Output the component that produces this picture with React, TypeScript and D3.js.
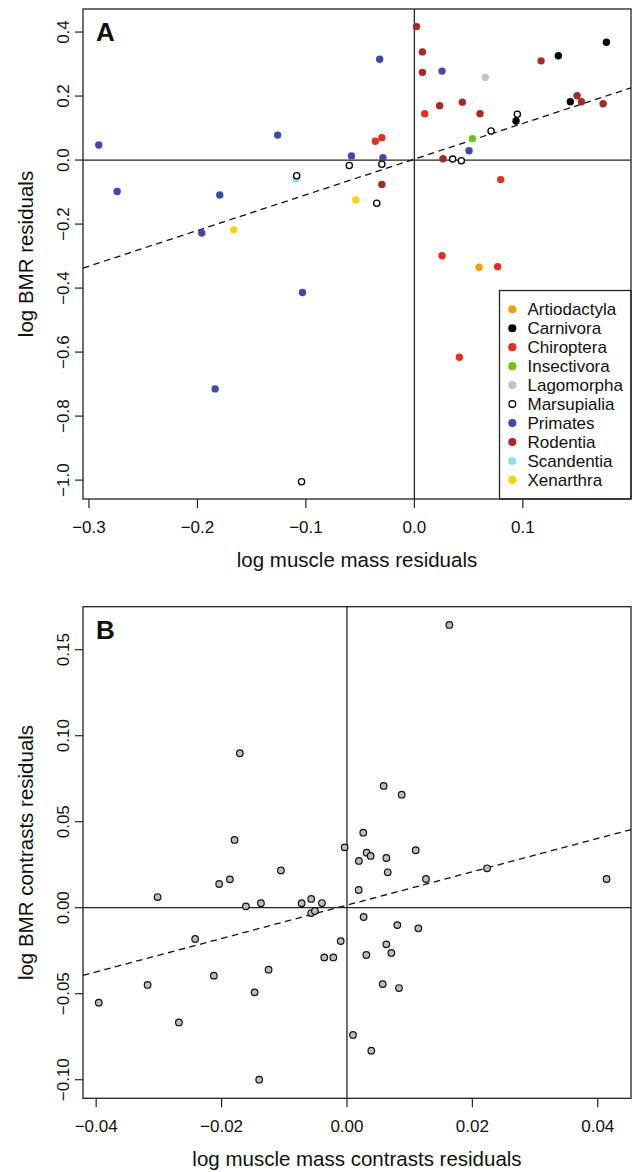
import { scaleLinear, format, line } from "d3";

const W = 637;
const H = 1172;
const FONT = '"Liberation Sans", Arial, Helvetica, sans-serif';

// panel A: log muscle mass residuals vs log BMR residuals, by order
const ORDERS = ["Artiodactyla", "Carnivora", "Chiroptera", "Insectivora", "Lagomorpha", "Marsupialia", "Primates", "Rodentia", "Scandentia", "Xenarthra"];

const artiodactyla = [[0.0596, -0.335]];
const carnivora = [[0.1327, 0.326], [0.177, 0.368], [0.1438, 0.182], [0.0937, 0.122]];
const chiroptera = [[0.0095, 0.145], [-0.036, 0.059], [-0.03, 0.07], [0.0796, -0.061], [0.0255, -0.299], [0.0768, -0.333], [0.0415, -0.616]];
const insectivora = [[0.0535, 0.067]];
const lagomorpha = [[0.0654, 0.258]];
const marsupialia = [[-0.06, -0.017], [-0.1085, -0.049], [-0.03, -0.013], [0.0353, 0.003], [0.0433, -0.002], [-0.0347, -0.135], [0.0949, 0.143], [0.0707, 0.091], [-0.104, -1.005]];
const primates = [[-0.291, 0.047], [-0.126, 0.078], [-0.058, 0.013], [-0.274, -0.098], [-0.1794, -0.109], [-0.196, -0.228], [-0.032, 0.315], [0.0255, 0.278], [0.0504, 0.029], [-0.029, 0.007], [-0.1032, -0.414], [-0.1837, -0.715]];
const rodentia = [[0.002, 0.417], [0.0074, 0.338], [0.0074, 0.274], [0.1168, 0.31], [0.15, 0.201], [0.154, 0.182], [0.174, 0.176], [0.0233, 0.17], [0.0442, 0.181], [0.0605, 0.145], [0.0264, 0.004], [-0.03, -0.076]];
const scandentia = [[-0.109, -0.059]];
const xenarthra = [[-0.054, -0.125], [-0.1665, -0.218]];

const seriesA: [string, number[][]][] = [
  ["Artiodactyla", artiodactyla],
  ["Carnivora", carnivora],
  ["Chiroptera", chiroptera],
  ["Insectivora", insectivora],
  ["Lagomorpha", lagomorpha],
  ["Primates", primates],
  ["Rodentia", rodentia],
  ["Scandentia", scandentia],
  ["Xenarthra", xenarthra],
  ["Marsupialia", marsupialia],
];

const xTicksA = [-0.3, -0.2, -0.1, 0.0, 0.1];
const yTicksA = [-1.0, -0.8, -0.6, -0.4, -0.2, 0.0, 0.2, 0.4];
const fitA = { intercept: 0.003, slope: 1.115 };

// panel B: phylogenetic contrasts
const contrastX = [
  0.01633, -0.01708, 0.00585, 0.00873, -0.01793, 0.0026, -0.00037, 0.00314, 0.00378, 0.00628,
  0.01096, 0.0019, -0.01053, -0.01867, -0.02038, 0.0065, 0.0126, 0.02234, 0.0414, -0.0302,
  0.00187, -0.01612, -0.01372, -0.00723, -0.0057, -0.00399, -0.0057, -0.00511, 0.00266, -0.02421,
  -0.001, 0.00803, 0.01138, -0.00362, -0.00218, 0.00628, 0.00708, 0.00309, -0.0125, -0.02123,
  -0.0318, -0.01473, 0.0057, 0.0083, -0.03958, -0.02681, 0.00096, 0.00388, -0.014,
];
const contrastY = [
  0.1644, 0.0898, 0.0708, 0.0657, 0.0394, 0.0436, 0.0351, 0.032, 0.0301, 0.0289,
  0.0334, 0.0272, 0.0217, 0.0165, 0.0138, 0.0206, 0.0167, 0.0229, 0.0167, 0.0062,
  0.0103, 0.0008, 0.0026, 0.0026, 0.0051, 0.0027, -0.0031, -0.0019, -0.0054, -0.0182,
  -0.0194, -0.0101, -0.012, -0.0289, -0.0289, -0.0213, -0.0263, -0.0275, -0.036, -0.0395,
  -0.0449, -0.0492, -0.0444, -0.0467, -0.0552, -0.0667, -0.074, -0.0831, -0.1,
];
const xTicksB = [-0.04, -0.02, 0.0, 0.02, 0.04];
const yTicksB = [-0.1, -0.05, 0.0, 0.05, 0.1, 0.15];
const fitB = { intercept: 0.0015, slope: 0.97 };

const COLORS: Record<string, string> = {
  Artiodactyla: "#f59d0e",
  Carnivora: "#000000",
  Chiroptera: "#e1301f",
  Insectivora: "#6cc21a",
  Lagomorpha: "#c4c4c4",
  Marsupialia: "#ffffff",
  Primates: "#4149ad",
  Rodentia: "#a62a27",
  Scandentia: "#93dcea",
  Xenarthra: "#ffd100",
};

const LEFT = 83;
const RIGHT = 631;

function Frame({ x, y, xTicks, yTicks, xFmt, yFmt, xTitle, yTitle, letter, fit }) {
  const [x0, x1] = x.domain();
  const [y0, y1] = y.range();
  const dash = line()([
    [x(x0), y(fit.intercept + fit.slope * x0)],
    [x(x1), y(fit.intercept + fit.slope * x1)],
  ]);
  const midX = (x.range()[0] + x.range()[1]) / 2;
  const midY = (y0 + y1) / 2;
  return (
    <g fontFamily={FONT} fill="#111">
      <line x1={x(0)} x2={x(0)} y1={y1} y2={y0} stroke="#222" strokeWidth={1.3} />
      <line x1={x(x0)} x2={x(x1)} y1={y(0)} y2={y(0)} stroke="#222" strokeWidth={1.3} />
      <path d={dash} fill="none" stroke="#111" strokeWidth={1.3} strokeDasharray="6.5,4.5" />
      {xTicks.map((t) => (
        <g key={`x${t}`}>
          <line x1={x(t)} x2={x(t)} y1={y0} y2={y0 + 9} stroke="#222" strokeWidth={1.2} />
          <text x={x(t)} y={y0 + 34} fontSize={17} textAnchor="middle">{xFmt(t)}</text>
        </g>
      ))}
      {yTicks.map((t) => (
        <g key={`y${t}`}>
          <line x1={LEFT - 8} x2={LEFT} y1={y(t)} y2={y(t)} stroke="#222" strokeWidth={1.2} />
          <text transform={`translate(${LEFT - 14},${y(t)}) rotate(-90)`} fontSize={17} textAnchor="middle">{yFmt(t)}</text>
        </g>
      ))}
      <text x={midX} y={y0 + 68} fontSize={20.5} textAnchor="middle">{xTitle}</text>
      <text transform={`translate(33,${midY}) rotate(-90)`} fontSize={20.5} textAnchor="middle">{yTitle}</text>
      <text x={LEFT + 13} y={y1 + 32} fontSize={26} fontWeight="bold">{letter}</text>
    </g>
  );
}

export default function App() {
  const xA = scaleLinear().domain([-0.3055, 0.1997]).range([LEFT, RIGHT]);
  const yA = scaleLinear().domain([-1.059, 0.472]).range([499, 9]);
  const xB = scaleLinear().domain([-0.0421, 0.0453]).range([LEFT, RIGHT]);
  const yB = scaleLinear().domain([-0.1108, 0.175]).range([1098.3, 606.7]);

  const legendTop = 290.5;
  const legendLeft = 499.5;
  const rowH = 18.96;

  return (
    <svg width={W} height={H} viewBox={`0 0 ${W} ${H}`} style={{ position: "absolute", left: 0, top: 0, background: "#fff" }}>
      <rect width={W} height={H} fill="#fff" />

      {/* panel A */}
      <Frame x={xA} y={yA} xTicks={xTicksA} yTicks={yTicksA} xFmt={format(".1f")} yFmt={format(".1f")}
        xTitle="log muscle mass residuals" yTitle="log BMR residuals" letter="A" fit={fitA} />
      {seriesA.map(([name, pts]) =>
        pts.map(([px, py], i) =>
          name === "Marsupialia" ? (
            <circle key={`${name}${i}`} cx={xA(px)} cy={yA(py)} r={3.1} fill="#fff" stroke="#000" strokeWidth={1.3} />
          ) : (
            <circle key={`${name}${i}`} cx={xA(px)} cy={yA(py)} r={3.7} fill={COLORS[name]} />
          )
        )
      )}
      <rect x={legendLeft} y={legendTop} width={RIGHT - legendLeft} height={499 - legendTop} fill="#fff" stroke="#222" strokeWidth={1.3} />
      {ORDERS.map((name, i) => (
        <g key={name} fontFamily={FONT}>
          {name === "Marsupialia" ? (
            <circle cx={512.3} cy={legendTop + 18.8 + i * rowH} r={3.4} fill="#fff" stroke="#000" strokeWidth={1.3} />
          ) : (
            <circle cx={512.3} cy={legendTop + 18.8 + i * rowH} r={4.1} fill={COLORS[name]} />
          )}
          <text x={527.5} y={legendTop + 18.8 + i * rowH + 6} fontSize={17} fill="#111">{name}</text>
        </g>
      ))}
      <rect x={LEFT} y={9} width={RIGHT - LEFT} height={490} fill="none" stroke="#222" strokeWidth={1.3} />

      {/* panel B */}
      <Frame x={xB} y={yB} xTicks={xTicksB} yTicks={yTicksB} xFmt={format(".2f")} yFmt={format(".2f")}
        xTitle="log muscle mass contrasts residuals" yTitle="log BMR contrasts residuals" letter="B" fit={fitB} />
      {contrastX.map((cx, i) => (
        <circle key={`b${i}`} cx={xB(cx)} cy={yB(contrastY[i])} r={3.3} fill="#bdbdbd" stroke="#111" strokeWidth={1.2} />
      ))}
      <rect x={LEFT} y={606.7} width={RIGHT - LEFT} height={1098.3 - 606.7} fill="none" stroke="#222" strokeWidth={1.3} />
    </svg>
  );
}
